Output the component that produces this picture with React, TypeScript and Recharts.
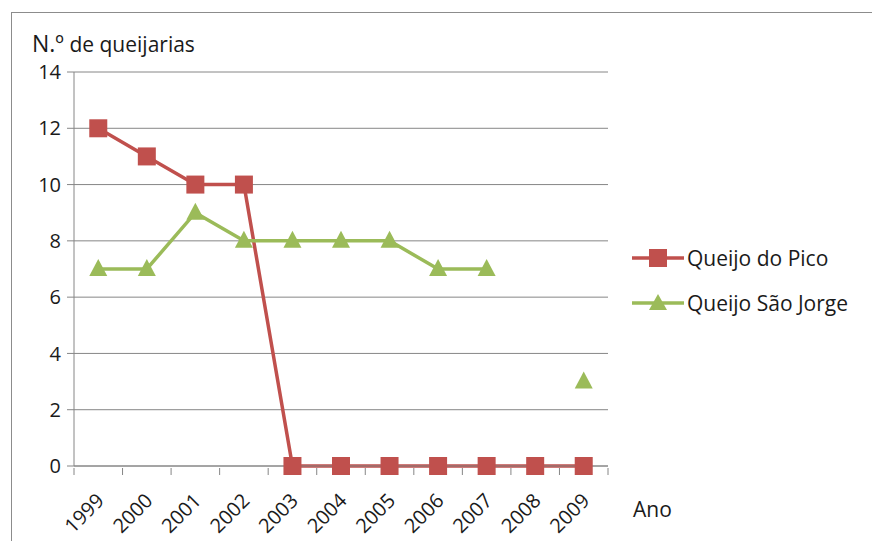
import { LineChart, Line, XAxis, YAxis, CartesianGrid, Legend } from "recharts";

const years = ["1999", "2000", "2001", "2002", "2003", "2004", "2005", "2006", "2007", "2008", "2009"];
const pico = [12, 11, 10, 10, 0, 0, 0, 0, 0, 0, 0];
const saoJorge = [7, 7, 9, 8, 8, 8, 8, 7, 7, null, 3];
const yTicks = [0, 2, 4, 6, 8, 10, 12, 14];
const seriesNames = ["Queijo do Pico", "Queijo São Jorge"];

const data = years.map((ano, i) => ({
  ano,
  [seriesNames[0]]: pico[i],
  [seriesNames[1]]: saoJorge[i],
}));

const FONT = "'Open Sans', 'Noto Sans', sans-serif";
const RED = "#C0504D";
const GREEN = "#9BBB59";
const GRID = "#868686";
const TEXT = "#1a1a1a";

const W = 872;
const H = 541;
const PLOT_LEFT = 74;
const PLOT_RIGHT = 608;
const HALF_BAND = (PLOT_RIGHT - PLOT_LEFT) / years.length / 2;

function SquareDot(props: any) {
  const { cx, cy, index } = props;
  if (cx == null || cy == null) return <g key={`s${index}`} />;
  return <rect key={`s${index}`} x={cx - 9} y={cy - 9} width={18} height={18} fill={RED} />;
}

function TriangleDot(props: any) {
  const { cx, cy, index, value } = props;
  if (cx == null || cy == null || value == null) return <g key={`t${index}`} />;
  return (
    <polygon
      key={`t${index}`}
      points={`${cx},${cy - 10} ${cx + 9},${cy + 7} ${cx - 9},${cy + 7}`}
      fill={GREEN}
    />
  );
}

function YearTick(props: any) {
  const { x, y, payload, index } = props;
  const last = index === years.length - 1;
  const tx = x + 7;
  const ty = y + 34;
  return (
    <g>
      <line x1={x - HALF_BAND} y1={y} x2={x - HALF_BAND} y2={y + 7} stroke={GRID} />
      {last && <line x1={x + HALF_BAND} y1={y} x2={x + HALF_BAND} y2={y + 7} stroke={GRID} />}
      <text
        x={tx}
        y={ty}
        textAnchor="end"
        transform={`rotate(-45, ${tx}, ${ty})`}
        fontFamily={FONT}
        fontSize={20}
        fill={TEXT}
      >
        {payload.value}
      </text>
    </g>
  );
}

function LegendBox(props: any) {
  const { payload } = props;
  const items = seriesNames.map((n) => payload.find((p: any) => p.value === n)).filter(Boolean);
  return (
    <div style={{ fontFamily: FONT, fontSize: 21, color: TEXT }}>
      {items.map((p: any) => {
        const isPico = p.value === seriesNames[0];
        return (
          <div key={p.value} style={{ display: "flex", alignItems: "center", height: 45 }}>
            <svg width={56} height={20} style={{ marginRight: 1 }}>
              <line x1={2} y1={10} x2={54} y2={10} stroke={p.color} strokeWidth={3.5} />
              {isPico ? (
                <rect x={19} y={1} width={18} height={18} fill={p.color} />
              ) : (
                <polygon points="28,1 37,17 19,17" fill={p.color} />
              )}
            </svg>
            <span>{p.value}</span>
          </div>
        );
      })}
    </div>
  );
}

export default function App() {
  return (
    <div style={{ position: "absolute", left: 0, top: 0, width: W, height: H, background: "#fff", overflow: "hidden" }}>
      <div
        style={{
          position: "absolute",
          left: 11,
          top: 12,
          width: W,
          height: H,
          borderTop: "1.5px solid #8c8c8c",
          borderLeft: "1.5px solid #8c8c8c",
        }}
      />
      <div style={{ position: "absolute", left: 32, top: 27, fontFamily: FONT, color: TEXT, whiteSpace: "nowrap" }}>
        <span style={{ fontSize: 23 }}>N.º</span>
        <span style={{ fontSize: 21 }}> de queijarias</span>
      </div>
      <div style={{ position: "absolute", left: 633, top: 495, fontFamily: FONT, fontSize: 21, color: TEXT }}>Ano</div>
      <LineChart
        width={W}
        height={H}
        data={data}
        margin={{ top: 72, right: W - PLOT_RIGHT, left: PLOT_LEFT - 60, bottom: 15 }}
      >
        <CartesianGrid vertical={false} stroke={GRID} strokeWidth={1} />
        <XAxis
          dataKey="ano"
          scale="band"
          interval={0}
          height={60}
          stroke={GRID}
          tickSize={0}
          tickLine={false}
          tick={<YearTick />}
        />
        <YAxis
          domain={[0, 14]}
          ticks={yTicks}
          width={60}
          stroke={GRID}
          tickSize={7}
          tickMargin={6}
          tick={{ fill: TEXT, fontFamily: FONT, fontSize: 20 }}
        />
        <Legend
          layout="vertical"
          align="center"
          verticalAlign="middle"
          wrapperStyle={{ left: 630, top: 235, width: 242 }}
          content={<LegendBox />}
        />
        <Line
          dataKey={seriesNames[0]}
          stroke={RED}
          strokeWidth={3.5}
          dot={<SquareDot />}
          isAnimationActive={false}
        />
        <Line
          dataKey={seriesNames[1]}
          stroke={GREEN}
          strokeWidth={3.5}
          dot={<TriangleDot />}
          isAnimationActive={false}
        />
      </LineChart>
    </div>
  );
}
